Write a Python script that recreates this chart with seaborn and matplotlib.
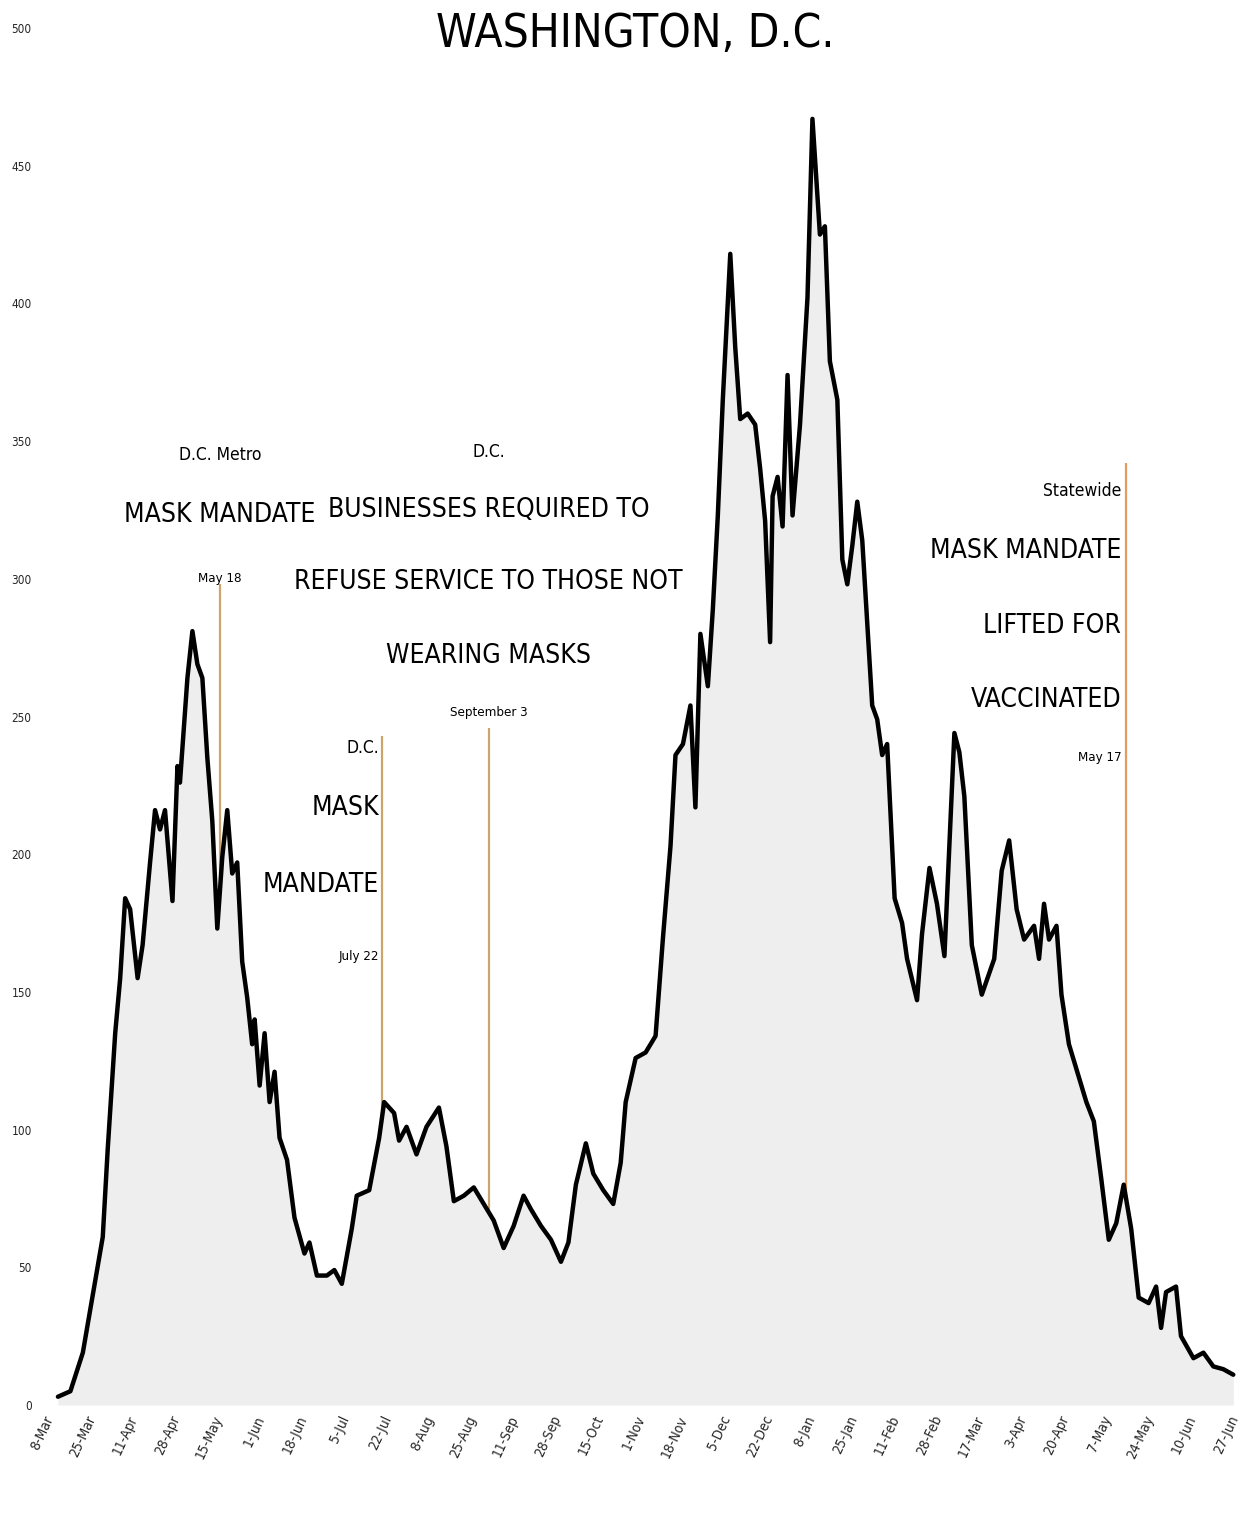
import numpy as np
import pandas as pd
import matplotlib
matplotlib.use("Agg")
import matplotlib.pyplot as plt
import seaborn as sns

# ---- data (7-day average of new cases) ----
START = pd.Timestamp("2020-03-08")
day_offsets = [
    6, 11, 16, 20, 24, 26, 29, 31, 33, 35, 38, 40, 43, 45, 47, 49, 52, 54, 55, 58,
    60, 62, 64, 66, 68, 70, 72, 74, 76, 78, 80, 82, 84, 85, 87, 89, 91, 93, 95, 98,
    101, 105, 107, 110, 114, 117, 120, 124, 126, 131, 135, 137, 141, 143, 146, 150,
    154, 159, 162, 165, 169, 173, 177, 181, 185, 189, 193, 196, 200, 204, 208, 211,
    214, 218, 221, 225, 229, 232, 234, 238, 242, 246, 249, 252, 254, 257, 260, 262,
    264, 267, 269, 271, 273, 276, 278, 280, 283, 286, 288, 290, 292, 293, 295, 297,
    299, 301, 304, 307, 309, 312, 314, 316, 319, 321, 323, 325, 327, 329, 333, 335,
    337, 339, 342, 345, 347, 351, 353, 356, 359, 362, 366, 368, 370, 373, 377, 382,
    385, 388, 391, 394, 398, 400, 402, 404, 407, 409, 412, 416, 419, 422, 425, 428,
    431, 434, 437, 440, 444, 447, 449, 451, 455, 457, 462, 466, 470, 474, 478,
]
cases = [
    3, 5, 19, 40, 61, 93, 135, 155, 184, 180, 155, 167, 197, 216, 209, 216, 183, 232, 226, 264,
    281, 269, 264, 235, 212, 173, 199, 216, 193, 197, 161, 148, 131, 140, 116, 135, 110, 121, 97, 89,
    68, 55, 59, 47, 47, 49, 44, 64, 76, 78, 97, 110, 106, 96, 101, 91,
    101, 108, 94, 74, 76, 79, 73, 67, 57, 65, 76, 71, 65, 60, 52, 59,
    80, 95, 84, 78, 73, 88, 110, 126, 128, 134, 170, 203, 236, 240, 254, 217,
    280, 261, 289, 323, 365, 418, 384, 358, 360, 356, 340, 321, 277, 330, 337, 319,
    374, 323, 356, 402, 467, 425, 428, 379, 365, 307, 298, 312, 328, 314, 254, 249,
    236, 240, 184, 175, 162, 147, 171, 195, 182, 163, 244, 237, 221, 167, 149, 162,
    194, 205, 180, 169, 174, 162, 182, 169, 174, 149, 131, 119, 110, 103, 82, 60,
    66, 80, 64, 39, 37, 43, 28, 41, 43, 25, 17, 19, 14, 13, 11,
]

# mandate events
event_dates = ["2020-05-18", "2020-07-22", "2020-09-03", "2021-05-17"]
event_line_tops = [298, 243, 246, 342]
event_colors = ["#c9a66b", "#c9a66b", "#c9a66b", "#e59a62"]

tick_dates = pd.date_range(START, periods=29, freq="17D")
y_ticks = list(range(0, 501, 50))

df = pd.DataFrame({"date": START + pd.to_timedelta(day_offsets, unit="D"),
                   "cases": cases})

# ---- style ----
sns.set_theme(style="white")
plt.rcParams["font.family"] = ["DejaVu Sans"]
plt.rcParams["font.stretch"] = "condensed"

fig = plt.figure(figsize=(12.46, 15.26), dpi=100)
ax = fig.add_axes([40 / 1246, 121 / 1526, 1202 / 1246, 1377 / 1526])

ax.fill_between(df["date"], 0, df["cases"], color="#eeeeee", lw=0, zorder=1)
sns.lineplot(data=df, x="date", y="cases", color="black", lw=3.2, ax=ax, zorder=3)

# vertical event lines, from the curve up to the label
curve_days = np.array(day_offsets, dtype=float)
for d, top, c in zip(event_dates, event_line_tops, event_colors):
    dt = pd.Timestamp(d)
    bottom = np.interp((dt - START).days, curve_days, cases)
    ax.vlines(dt, bottom, top, color=c, lw=1.6, zorder=2)

def block(x, lines, ha):
    for txt, yv, size in lines:
        ax.text(pd.Timestamp(x), yv, txt, ha=ha, va="center", fontsize=size,
                color="black", fontstretch="condensed", zorder=4)

BIG = 19
MID = 12.5
SMALL = 9.5
block("2020-05-18", [("D.C. Metro", 345, MID),
                     ("MASK MANDATE", 323, BIG),
                     ("May 18", 300, SMALL)], "center")
block("2020-09-03", [("D.C.", 346, MID),
                     ("BUSINESSES REQUIRED TO", 325, BIG),
                     ("REFUSE SERVICE TO THOSE NOT", 299, BIG),
                     ("WEARING MASKS", 272, BIG),
                     ("September 3", 251.5, SMALL)], "center")
block("2020-07-21", [("D.C.", 238.5, MID),
                     ("MASK", 216.7, BIG),
                     ("MANDATE", 188.7, BIG),
                     ("July 22", 163, SMALL)], "right")
block("2021-05-15", [("Statewide", 332, MID),
                     ("MASK MANDATE", 310, BIG),
                     ("LIFTED FOR", 283, BIG),
                     ("VACCINATED", 256, BIG),
                     ("May 17", 235, SMALL)], "right")

fig.text(0.51, 1 - 35 / 1526, "WASHINGTON, D.C.", ha="center", va="center",
         fontsize=33, color="black", fontstretch="condensed")

# ---- axes ----
ax.set_xlim(START - pd.Timedelta(days=1.2), START + pd.Timedelta(days=481.5))
ax.set_ylim(0, 500)
ax.set_xticks(tick_dates)
ax.set_xticklabels([f"{t.day}-{t.strftime('%b')}" for t in tick_dates],
                   rotation=65, ha="right", rotation_mode="anchor", fontsize=10)
ax.set_yticks(y_ticks)
ax.set_yticklabels([str(v) for v in y_ticks], fontsize=8.5)
ax.tick_params(axis="both", length=0, pad=6)
ax.set_xlabel("")
ax.set_ylabel("")
ax.grid(False)
sns.despine(ax=ax, left=True, bottom=True)

fig.savefig("out.png", dpi=100)
